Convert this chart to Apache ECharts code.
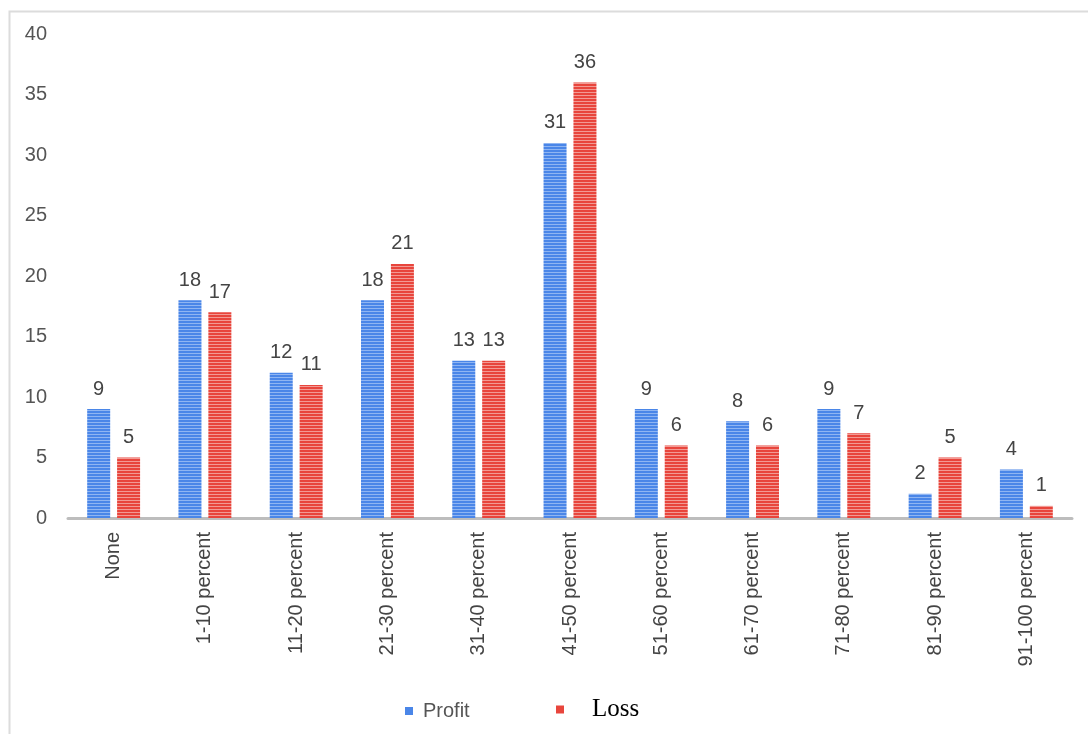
<!DOCTYPE html>
<html>
<head>
<meta charset="utf-8">
<script src="https://cdn.jsdelivr.net/npm/echarts@6/dist/echarts.min.js"></script>
<style>
  html, body { margin: 0; padding: 0; background: #fff; }
  #chart { width: 1088px; height: 734px; }
</style>
</head>
<body>
<div id="chart"></div>
<script>
const categories = ['None', '1-10 percent', '11-20 percent', '21-30 percent', '31-40 percent',
  '41-50 percent', '51-60 percent', '61-70 percent', '71-80 percent', '81-90 percent', '91-100 percent'];
const profit = [9, 18, 12, 18, 13, 31, 9, 8, 9, 2, 4];
const loss = [5, 17, 11, 21, 13, 36, 6, 6, 7, 5, 1];
const yTicks = { min: 0, max: 40, interval: 5 };

// Horizontal-stripe fill used for the bars
function stripes(base, light) {
  const c = document.createElement('canvas');
  c.width = 4; c.height = 3;
  const g = c.getContext('2d');
  g.fillStyle = base; g.fillRect(0, 0, 4, 3);
  g.fillStyle = light; g.fillRect(0, 2, 4, 1);
  return { image: c, repeat: 'repeat' };
}
const blueFill = stripes('#4a86e8', '#8fb5f2');
const redFill = stripes('#e8453c', '#f29a94');

const SANS = 'Liberation Sans, Arial, sans-serif';
const labelStyle = {
  show: true, position: 'top', distance: 10,
  fontFamily: SANS, fontSize: 20, color: '#444'
};

const chart = echarts.init(document.getElementById('chart'));
chart.setOption({
  animation: false,
  graphic: [{
    type: 'rect', left: 7, top: 9, silent: true,
    shape: { width: 1100, height: 760 },
    style: { fill: 'none', stroke: '#dcdcdc', lineWidth: 2 }
  }],
  grid: { left: 68, right: 16, top: 34, bottom: 216 },
  legend: [{
    data: [{ name: 'Profit', icon: 'rect', itemStyle: { color: '#4a86e8' } }],
    left: 400, top: 696, itemWidth: 8, itemHeight: 8,
    textStyle: { fontFamily: SANS, fontSize: 20, color: '#555', padding: [0, 0, 0, 5] }
  }, {
    data: [{ name: 'Loss', icon: 'rect', itemStyle: { color: '#e8453c' } }],
    left: 551, top: 692, itemWidth: 8, itemHeight: 8,
    textStyle: { fontFamily: 'Liberation Serif, Times New Roman, serif', fontSize: 25, color: '#000', padding: [0, 0, 0, 23] }
  }],
  xAxis: {
    type: 'category', data: categories,
    axisLine: { lineStyle: { color: '#bdbdbd', width: 3 } },
    axisTick: { show: false },
    axisLabel: {
      rotate: 90, margin: 14, interval: 0,
      fontFamily: SANS, fontSize: 20, color: '#444'
    }
  },
  yAxis: {
    type: 'value', min: yTicks.min, max: yTicks.max, interval: yTicks.interval,
    axisLine: { show: false }, axisTick: { show: false }, splitLine: { show: false },
    axisLabel: { margin: 21, fontFamily: SANS, fontSize: 20, color: '#555' }
  },
  series: [{
    name: 'Profit', type: 'bar', data: profit,
    barWidth: 23, barGap: '30%',
    itemStyle: { color: blueFill },
    label: labelStyle
  }, {
    name: 'Loss', type: 'bar', data: loss,
    barWidth: 23,
    itemStyle: { color: redFill },
    label: labelStyle
  }]
});
</script>
</body>
</html>
